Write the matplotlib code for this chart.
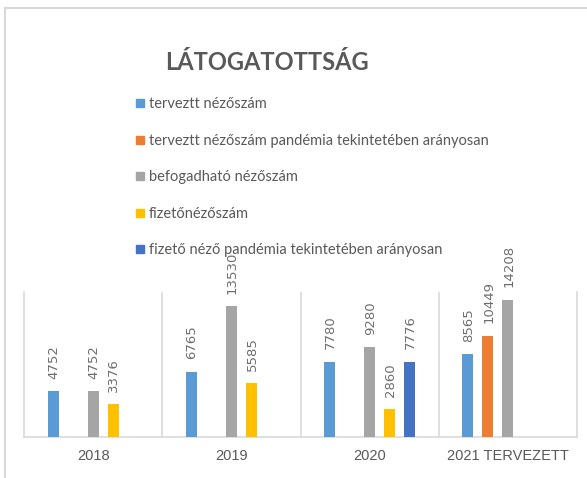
import numpy as np
import matplotlib
matplotlib.use('Agg')
import matplotlib.pyplot as plt
from matplotlib.lines import Line2D


# adatok
categories = ['2018', '2019', '2020', '2021 TERVEZETT']
series_names = ['terveztt nézőszám',
                'terveztt nézőszám pandémia tekintetében arányosan',
                'befogadható nézőszám',
                'fizetőnézőszám',
                'fizető néző pandémia tekintetében arányosan']
tervezett = [4752, 6765, 7780, 8565]
tervezett_pandemia = [np.nan, np.nan, np.nan, 10449]
befogadhato = [4752, 13530, 9280, 14208]
fizeto = [3376, 5585, 2860, np.nan]
fizeto_pandemia = [np.nan, np.nan, 7776, np.nan]

colors = ['#5B9BD5', '#ED7D31', '#A5A5A5', '#FFC000', '#4472C4']
text_color = '#595959'
line_color = '#D9D9D9'
narrow = ['Lato', 'Liberation Sans', 'DejaVu Sans']


def main():
    series = [tervezett, tervezett_pandemia, befogadhato, fizeto, fizeto_pandemia]

    fig = plt.figure(figsize=(5.87, 4.78), dpi=100)
    ax = fig.add_axes([24 / 587, 41 / 478, 553 / 587, 145 / 478])

    x = np.arange(len(categories))
    slot = 0.1447
    width = 0.08
    for i, (vals, col) in enumerate(zip(series, colors)):
        pos = x + (i - 2) * slot
        vals = np.array(vals, dtype=float)
        ok = ~np.isnan(vals)
        bars = ax.bar(pos[ok], vals[ok], width=width, color=col, label=series_names[i], zorder=3)
        for b, v in zip(bars, vals[ok]):
            ax.annotate(str(int(v)), (b.get_x() + b.get_width() / 2, b.get_height()),
                        xytext=(0.5, 9), textcoords='offset points', rotation=90,
                        ha='center', va='bottom', fontsize=9.5, color='#6e6e6e',
                        family='DejaVu Sans')

    ax.set_xlim(-0.5, len(categories) - 0.5)
    ax.set_ylim(0, 15000)
    ax.set_yticks([])
    ax.set_xticks(x)
    ax.set_xticklabels(categories, family='Liberation Sans', fontsize=10.5, color=text_color)
    ax.tick_params(axis='x', length=0, pad=9)
    ax.spines['top'].set_visible(False)
    for s in ['left', 'right', 'bottom']:
        ax.spines[s].set_color(line_color)
        ax.spines[s].set_linewidth(1.2)
    for xs in x[:-1] + 0.5:
        ax.axvline(xs, color=line_color, lw=1.2, zorder=1)

    # cím
    fig.text(267 / 587, 1 - 70 / 478, 'LÁTOGATOTTSÁG', ha='center', va='baseline',
             fontsize=17, fontweight='bold', color=text_color, family=narrow)

    # jelmagyarázat
    handles = [Line2D([], [], marker='s', ls='', color=c, markersize=5.5) for c in colors]
    leg = fig.legend(handles, series_names, loc='upper left',
                     bbox_to_anchor=(136 / 587, 1 - 97 / 478), frameon=False,
                     borderpad=0, borderaxespad=0, handlelength=0.6, handletextpad=0.3,
                     labelspacing=1.55, prop={'family': narrow, 'size': 10.5})
    for t in leg.get_texts():
        t.set_color(text_color)

    # külső keret
    fig.add_artist(Line2D([5 / 587, 5 / 587], [0, 1 - 8 / 478], color=line_color,
                          lw=1.5, transform=fig.transFigure))
    fig.add_artist(Line2D([5 / 587, 1], [1 - 8 / 478, 1 - 8 / 478], color=line_color,
                          lw=1.5, transform=fig.transFigure))

    plt.savefig('out.png', dpi=100)
    plt.close()


if __name__ == '__main__':
    main()
